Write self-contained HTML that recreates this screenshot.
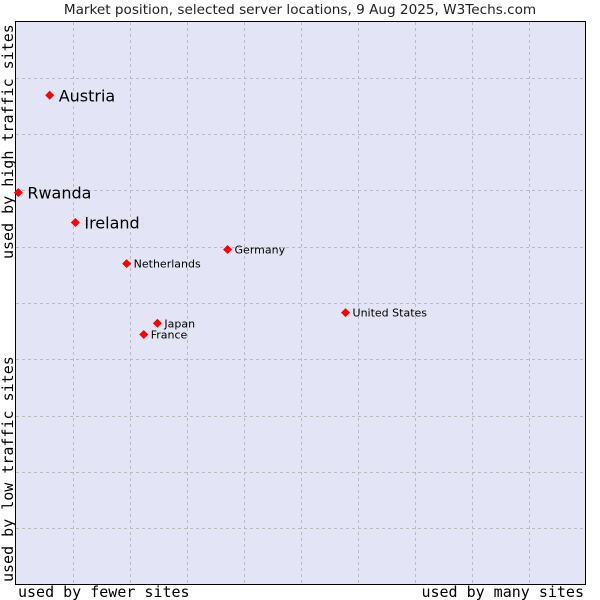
<!DOCTYPE html>
<html><head><meta charset="utf-8"><style>
body{margin:0;background:#fff;width:600px;height:600px;overflow:hidden}
svg{display:block}
</style></head><body>
<svg id="chart" width="600" height="600">
<text x="300" y="14" text-anchor="middle" font-family="DejaVu Sans, sans-serif" font-size="13.6" fill="#222">Market position, selected server locations, 9 Aug 2025, W3Techs.com</text>
<rect x="15.5" y="21.5" width="570" height="563" fill="#e4e4f7" stroke="#000"/>
<g id="grid"></g>
<g id="points"></g>
<text x="18" y="597" font-family="DejaVu Sans Mono, monospace" font-size="15" fill="#000">used by fewer sites</text>
<text x="584" y="597" text-anchor="end" font-family="DejaVu Sans Mono, monospace" font-size="15" fill="#000">used by many sites</text>
<text transform="translate(13,582) rotate(-90)" font-family="DejaVu Sans Mono, monospace" font-size="15" fill="#000">used by low traffic sites</text>
<text transform="translate(13,259) rotate(-90)" font-family="DejaVu Sans Mono, monospace" font-size="15" fill="#000">used by high traffic sites</text>
</svg>
<script>
const names = ["Austria","Rwanda","Ireland","Germany","Netherlands","United States","Japan","France"];
const xVals = [0.6,0.05,1.05,3.72,1.95,5.79,2.49,2.25];
const yVals = [8.69,6.96,6.43,5.95,5.70,4.83,4.64,4.44];
const big = [true,true,true,false,false,false,false,false];
const NS="http://www.w3.org/2000/svg";
const X0=15.5,W=570,Y0=584.5,H=563;
function sx(v){return X0+v/10*W;}
function sy(v){return Y0-v/10*H;}
const grid=document.getElementById('grid');
for(let i=1;i<10;i++){
  const a=document.createElementNS(NS,'line');
  
  
  const gx=Math.round(sx(i))+0.5;
  a.setAttribute('x1',gx);a.setAttribute('x2',gx);a.setAttribute('y1',22);a.setAttribute('y2',584);
  a.setAttribute('stroke','#bbbbbb');a.setAttribute('stroke-dasharray','3,3');
  grid.appendChild(a);
  const b=document.createElementNS(NS,'line');
  
  
  const gy=Math.round(sy(i))+0.5;
  b.setAttribute('y1',gy);b.setAttribute('y2',gy);b.setAttribute('x1',16);b.setAttribute('x2',585);
  b.setAttribute('stroke','#bbbbbb');b.setAttribute('stroke-dasharray','3,3');
  grid.appendChild(b);
}
const pts=document.getElementById('points');
names.forEach((n,i)=>{
  const px=sx(xVals[i]),py=sy(yVals[i]);
  const d=document.createElementNS(NS,'polygon');
  
  
  const r=4.5;
  d.setAttribute('points',`${px},${py-r} ${px+r},${py} ${px},${py+r} ${px-r},${py}`);
  d.setAttribute('fill','#f00');
  pts.appendChild(d);
  const t=document.createElementNS(NS,'text');
  
  
  t.setAttribute('x',px+(big[i]?9:7));
  t.setAttribute('y',py+(big[i]?6:4));
  t.setAttribute('font-family','DejaVu Sans, sans-serif');
  t.setAttribute('font-size',big[i]?16:11);
  t.setAttribute('fill','#000');
  t.textContent=n;
  pts.appendChild(t);
});
</script>
</body></html>
